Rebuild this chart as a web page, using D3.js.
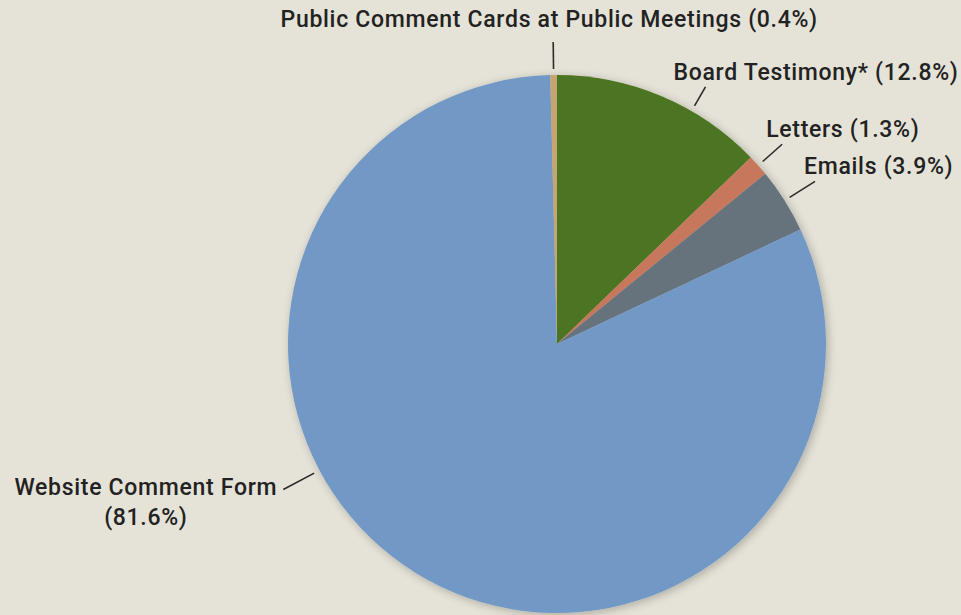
<!DOCTYPE html>
<html>
<head>
<meta charset="utf-8">
<script src="https://cdn.jsdelivr.net/npm/d3@7/dist/d3.min.js"></script>
<style>
  html, body { margin: 0; padding: 0; background: #e5e2d7; }
  svg { display: block; }
</style>
</head>
<body>
<div id="chart"></div>
<script>
var categories = ["Board Testimony*", "Letters", "Emails", "Website Comment Form", "Public Comment Cards at Public Meetings"];
var shares = [12.8, 1.3, 3.9, 81.6, 0.4];
var sliceColors = ["#4b7520", "#c7785b", "#66737d", "#7299c6", "#c6a56f"];

// leader line length and where each label sits relative to its outer end
var labelLayout = {
  "Board Testimony*": { angle: 30, outer: 297, dx: -32, dy: -7, anchor: "start" },
  "Letters": { outer: 301, dx: -16, dy: -7, anchor: "start" },
  "Emails": { outer: 305, dx: -11, dy: -7, anchor: "start" },
  "Website Comment Form": { angle: 242, outer: 310, dx: -6, dy: 5, anchor: "end", wrap: true },
  "Public Comment Cards at Public Meetings": { outer: 302, dx: -4, dy: -15, anchor: "middle" }
};

var width = 961, height = 615;
var cx = 557, cy = 344, radius = 269;

var data = categories.map(function (c, i) {
  return { name: c, value: shares[i], color: sliceColors[i] };
});

var svg = d3.select("#chart").append("svg").attr("width", width).attr("height", height);

var defs = svg.append("defs");
var shadow = defs.append("filter").attr("id", "shadow")
  .attr("x", "-20%").attr("y", "-20%").attr("width", "140%").attr("height", "140%");
shadow.append("feGaussianBlur").attr("in", "SourceAlpha").attr("stdDeviation", 5);
shadow.append("feOffset").attr("dx", 2).attr("dy", 2).attr("result", "blur");
shadow.append("feComponentTransfer").append("feFuncA").attr("type", "linear").attr("slope", 0.25);
var merge = shadow.append("feMerge");
merge.append("feMergeNode");
merge.append("feMergeNode").attr("in", "SourceGraphic");

var pie = d3.pie().sort(null).value(function (d) { return d.value; });
var arc = d3.arc().innerRadius(0).outerRadius(radius);
var arcs = pie(data);

var g = svg.append("g").attr("transform", "translate(" + cx + "," + cy + ")");

g.append("g")
  .attr("filter", "url(#shadow)")
  .selectAll("path")
  .data(arcs)
  .join("path")
  .attr("d", arc)
  .attr("fill", function (d) { return d.data.color; });

function leaderAngle(d) {
  var lay = labelLayout[d.data.name];
  if (lay.angle != null) return lay.angle * Math.PI / 180;
  return (d.startAngle + d.endAngle) / 2;
}
function polar(a, r) {
  return [Math.sin(a) * r, -Math.cos(a) * r];
}
function outerPoint(d) {
  return polar(leaderAngle(d), labelLayout[d.data.name].outer);
}

var inner = radius + 6;

g.append("g")
  .attr("stroke", "#2b2b2b")
  .attr("stroke-width", 1.6)
  .selectAll("line")
  .data(arcs)
  .join("line")
  .attr("x1", function (d) { return polar(leaderAngle(d), inner)[0]; })
  .attr("y1", function (d) { return polar(leaderAngle(d), inner)[1]; })
  .attr("x2", function (d) { return outerPoint(d)[0]; })
  .attr("y2", function (d) { return outerPoint(d)[1]; });

var labels = g.append("g")
  .attr("font-family", "Roboto, 'Liberation Sans', sans-serif")
  .attr("font-weight", 500)
  .attr("font-size", 23)
  .attr("letter-spacing", "0.7px")
  .attr("fill", "#222")
  .selectAll("text")
  .data(arcs)
  .join("text")
  .attr("text-anchor", function (d) { return labelLayout[d.data.name].anchor; })
  .attr("transform", function (d) {
    var lay = labelLayout[d.data.name];
    var p = outerPoint(d);
    return "translate(" + (p[0] + lay.dx) + "," + (p[1] + lay.dy) + ")";
  });

labels.each(function (d) {
  var t = d3.select(this);
  var lay = labelLayout[d.data.name];
  var pct = "(" + d.data.value.toFixed(1) + "%)";
  if (lay.wrap) {
    t.append("tspan").attr("x", 0).attr("y", 0).text(d.data.name);
    // second line is centred under the first
    var w = this.getComputedTextLength();
    t.append("tspan").attr("x", -w / 2).attr("y", 30).attr("text-anchor", "middle").text(pct);
  } else {
    t.text(d.data.name + " " + pct);
  }
});
</script>
</body>
</html>
